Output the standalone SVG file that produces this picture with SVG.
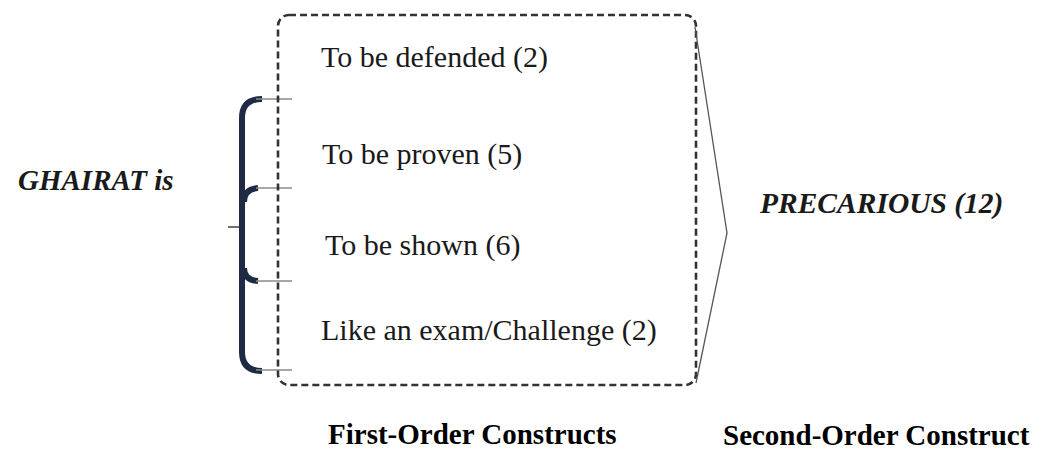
<svg xmlns="http://www.w3.org/2000/svg" width="1043" height="450" viewBox="0 0 1043 450">
  <style>
    .lbl { font-family: 'Liberation Serif', 'Times New Roman', Times, serif; font-size: 30px; fill: #1a1a1a; }
    .emph { font-weight: bold; font-style: italic; font-size: 29px; }
    .head { font-weight: bold; font-size: 29px; fill: #000; }
    .tick { stroke: #8a8a8a; stroke-width: 1.6; fill: none; }
    .brace { stroke: #1f2a44; stroke-width: 6; fill: none; stroke-linecap: butt; }
    .frame { stroke: #333; stroke-width: 2.6; fill: none; stroke-dasharray: 7 4; }
    .chev { stroke: #555; stroke-width: 1.3; fill: none; }
  </style>

  <rect width="1043" height="450" fill="#fff"/>

  <!-- subject -->
  <g id="subject">
    <text class="lbl emph" x="18" y="190">GHAIRAT is</text>
  </g>

  <!-- brace grouping the four constructs -->
  <g id="brace">
    <line x1="228" y1="227" x2="241" y2="227" stroke="#333" stroke-width="1.4"/>
    <path class="brace" d="M 262 99 Q 242 99 242 118 L 242 352 Q 242 371 262 371"/>
    <path class="brace" d="M 244 202 Q 244 189 258 188"/>
    <path class="brace" d="M 244 268 Q 244 280 258 281"/>
    <line class="tick" x1="256" y1="99" x2="292" y2="99"/>
    <line class="tick" x1="256" y1="188" x2="292" y2="188"/>
    <line class="tick" x1="256" y1="281" x2="292" y2="281"/>
    <line class="tick" x1="256" y1="370" x2="292" y2="370"/>
  </g>

  <!-- first-order constructs -->
  <g id="first-order">
    <rect class="frame" x="278" y="15" width="418" height="370" rx="11"/>
    <text class="lbl" x="321" y="67">To be defended (2)</text>
    <text class="lbl" x="322" y="164">To be proven (5)</text>
    <text class="lbl" x="325" y="255">To be shown (6)</text>
    <text class="lbl" x="321" y="340">Like an exam/Challenge (2)</text>
  </g>

  <!-- connector into the second-order construct -->
  <g id="connectors">
    <polyline class="chev" points="695,27 727,233 696,383"/>
  </g>

  <!-- second-order construct -->
  <g id="second-order">
    <text class="lbl emph" x="760" y="213" style="font-size:29.5px">PRECARIOUS (12)</text>
  </g>

  <!-- column captions -->
  <g id="captions">
    <text class="lbl head" x="328" y="444">First-Order Constructs</text>
    <text class="lbl head" x="723" y="445">Second-Order Construct</text>
  </g>
</svg>
